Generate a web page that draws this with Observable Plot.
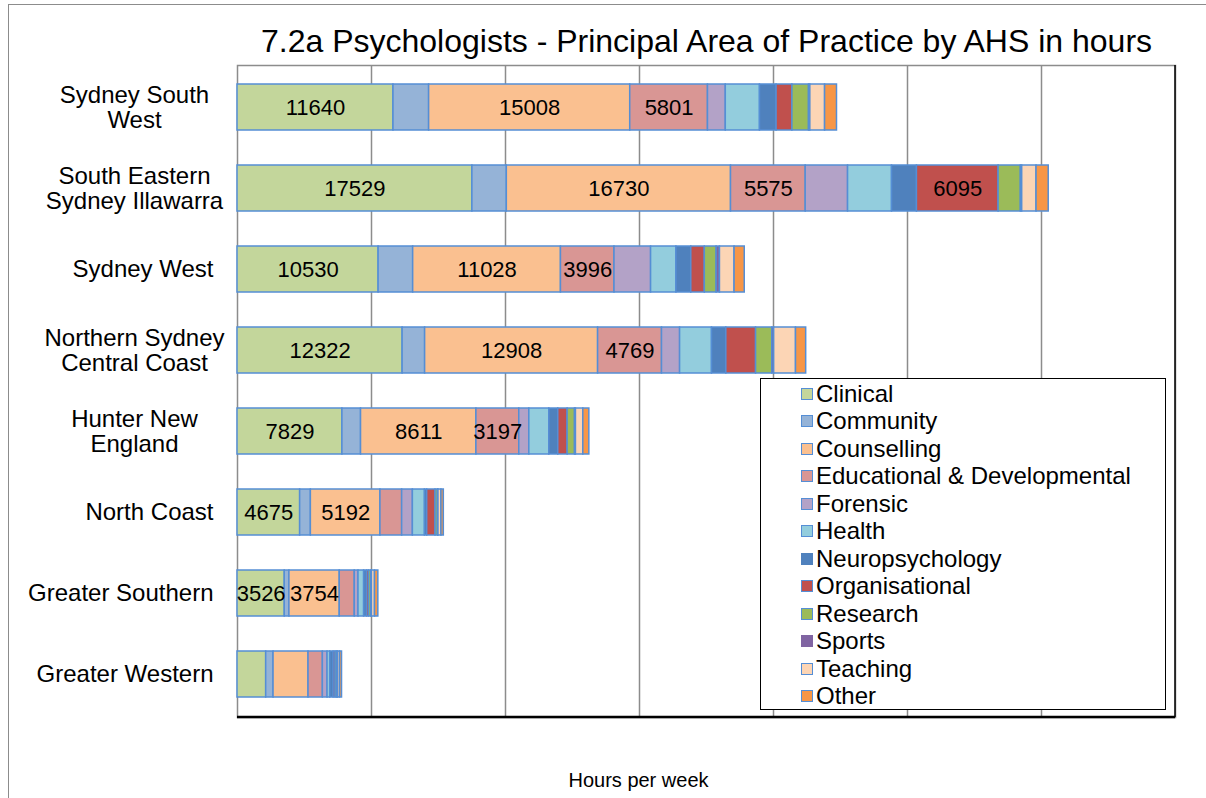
<!DOCTYPE html>
<html>
<head>
<meta charset="utf-8">
<script src="https://cdn.jsdelivr.net/npm/d3@7"></script>
<script src="https://cdn.jsdelivr.net/npm/@observablehq/plot@0.6"></script>
<style>
  html, body { margin: 0; padding: 0; background: #fff; }
  #wrap { position: relative; width: 1206px; height: 798px; overflow: hidden; font-family: "Liberation Sans", Arial, sans-serif; }
  #outer { position: absolute; left: 8px; top: 4px; width: 1300px; height: 900px; border-left: 1.5px solid #8c8c8c; border-top: 1.5px solid #8c8c8c; }
  #chart { position: absolute; left: 0; top: 0; }
  #legend { position: absolute; left: 760px; top: 378px; width: 404px; height: 330px; border: 1.5px solid #000; background: #fff; box-sizing: content-box; }
  .li { position: absolute; left: 40px; height: 27.5px; display: flex; align-items: center; font-size: 24px; color: #000; white-space: nowrap; }
  .sw { width: 10px; height: 10px; border: 1.5px solid #558ED5; margin-right: 3px; flex: none; }
</style>
</head>
<body>
<div id="wrap">
  <div id="outer"></div>
  <div id="chart"></div>
  <div id="legend"></div>
</div>
<script>
const regions = ["Sydney South West", "South Eastern Sydney Illawarra", "Sydney West", "Northern Sydney Central Coast", "Hunter New England", "North Coast", "Greater Southern", "Greater Western"];
const regionLabels = ["Sydney South\nWest", "South Eastern\nSydney Illawarra", "Sydney West", "Northern Sydney\nCentral Coast", "Hunter New\nEngland", "North Coast", "Greater Southern", "Greater Western"];
const areas = ["Clinical", "Community", "Counselling", "Educational & Developmental", "Forensic", "Health", "Neuropsychology", "Organisational", "Research", "Sports", "Teaching", "Other"];
const colors = ["#C3D69B", "#95B3D7", "#FAC090", "#D99694", "#B3A2C7", "#93CDDD", "#4F81BD", "#C0504D", "#9BBB59", "#8064A2", "#FCD5B5", "#F79646"];

const clinical       = [11640, 17529, 10530, 12322, 7829, 4675, 3526, 2140];
const community      = [2660, 2570, 2580, 1680, 1390, 800, 350, 550];
const counselling    = [15008, 16730, 11028, 12908, 8611, 5192, 3754, 2610];
const educational    = [5801, 5575, 3996, 4769, 3197, 1620, 1120, 1070];
const forensic       = [1330, 3160, 2730, 1350, 750, 800, 280, 350];
const health         = [2550, 3280, 1890, 2380, 1490, 900, 420, 200];
const neuro          = [1240, 1860, 1110, 1070, 670, 170, 220, 250];
const organisational = [1180, 6095, 1010, 2220, 700, 620, 150, 150];
const research       = [1240, 1660, 880, 1210, 550, 180, 170, 130];
const sports         = [100, 100, 250, 140, 70, 40, 40, 40];
const teaching       = [1100, 1070, 1090, 1630, 550, 220, 230, 160];
const other          = [890, 910, 760, 760, 450, 180, 250, 150];

const series = [clinical, community, counselling, educational, forensic, health, neuro, organisational, research, sports, teaching, other];
const labelledAreas = ["Clinical", "Counselling", "Educational & Developmental", "Organisational"];
const labelMin = 3000;
const gridTicks = [10000, 20000, 30000, 40000, 50000, 60000];

const data = [];
series.forEach((vals, j) => vals.forEach((v, i) => data.push({region: regions[i], area: areas[j], value: v})));

const labelOf = Object.fromEntries(regions.map((r, i) => [r, regionLabels[i]]));
const single = regions.filter(r => !labelOf[r].includes("\n"));
const multi = regions.filter(r => labelOf[r].includes("\n"));

const W = 1206, H = 798, mL = 237, mR = 31, mT = 65, mB = 81;

const chart = Plot.plot({
  width: W, height: H,
  marginLeft: mL, marginRight: mR, marginTop: mT, marginBottom: mB,
  style: {background: "transparent", fontFamily: "Liberation Sans, Arial, sans-serif"},
  x: {domain: [0, 70000], axis: null},
  y: {domain: regions, axis: null, paddingInner: 0.43, paddingOuter: 0.215},
  color: {domain: areas, range: colors},
  marks: [
    Plot.frame({stroke: "#8c8c8c", strokeWidth: 1.5}),
    Plot.ruleX(gridTicks, {stroke: "#8c8c8c", strokeWidth: 1.5}),
    Plot.barX(data, Plot.stackX({x: "value", y: "region", z: "area", fill: "area", stroke: "#558ED5", strokeWidth: 1.5})),
    Plot.text(data, Plot.stackX({x: "value", y: "region", z: "area",
      text: d => (labelledAreas.includes(d.area) && d.value >= labelMin) ? String(d.value) : "",
      fontSize: 22, fill: "#000"})),
    Plot.text(single, {y: d => d, text: d => labelOf[d], frameAnchor: "left", textAnchor: "end", dx: -24, fontSize: 24, fill: "#000"}),
    Plot.text(multi, {y: d => d, text: d => labelOf[d], frameAnchor: "left", textAnchor: "middle", dx: -103, fontSize: 24, lineHeight: 1.04, fill: "#000"}),
    Plot.text(["7.2a Psychologists - Principal Area of Practice by AHS in hours"], {frameAnchor: "top", lineAnchor: "middle", dy: -24, fontSize: 32, fill: "#000"}),
    Plot.text(["Hours per week"], {frameAnchor: "bottom", lineAnchor: "middle", dx: -68, dy: 63, fontSize: 20, fill: "#000"})
  ]
});
document.getElementById("chart").appendChild(chart);

// plot-area edges: black right and bottom borders
const svg = d3.select(chart);
svg.append("line").attr("x1", W - mR).attr("x2", W - mR).attr("y1", mT).attr("y2", H - mB).attr("stroke", "#000").attr("stroke-width", 1.5);
svg.append("line").attr("x1", mL).attr("x2", W - mR).attr("y1", H - mB).attr("y2", H - mB).attr("stroke", "#000").attr("stroke-width", 2.5);

// legend
const leg = document.getElementById("legend");
areas.forEach((a, i) => {
  const row = document.createElement("div");
  row.className = "li";
  row.style.top = (1 + i * 27.5) + "px";
  const sw = document.createElement("span");
  sw.className = "sw";
  sw.style.background = colors[i];
  if (a === "Neuropsychology" || a === "Sports") sw.style.borderColor = colors[i];
  row.appendChild(sw);
  row.appendChild(document.createTextNode(a));
  leg.appendChild(row);
});
</script>
</body>
</html>
